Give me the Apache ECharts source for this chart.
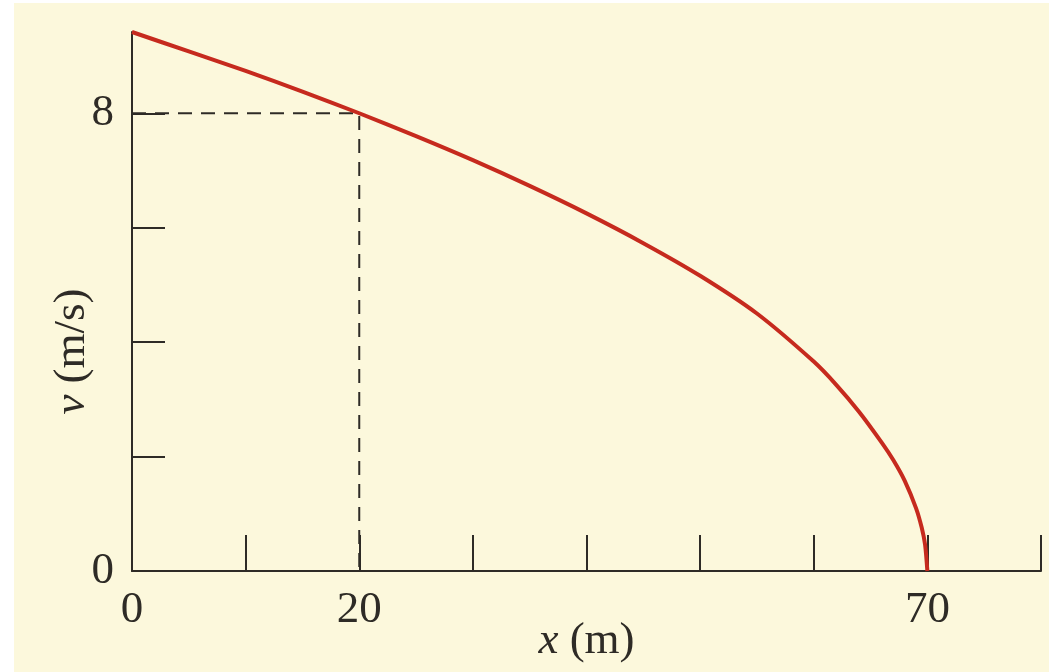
<!DOCTYPE html>
<html>
<head>
<meta charset="utf-8">
<script src="https://cdn.jsdelivr.net/npm/echarts@6/dist/echarts.min.js"></script>
<style>
  html, body { margin: 0; padding: 0; background: #ffffff; }
  #chart { position: absolute; left: 14px; top: 3px; width: 1035px; height: 669px; background: #fcf8dc; }
</style>
</head>
<body>
<div id="chart"></div>
<script>
// Position x (m) and speed v (m/s) along the braking curve
const positions = [0, 5, 10, 15, 20, 25, 30, 35, 40, 45, 50, 55, 60, 62, 64, 66, 67, 68, 69, 69.5, 69.8, 70];
const speeds    = [9.42, 9.08, 8.74, 8.38, 8.0, 7.6, 7.18, 6.73, 6.25, 5.73, 5.16, 4.5, 3.66, 3.25, 2.78, 2.24, 1.94, 1.58, 1.1, 0.76, 0.46, 0];

// Reading guide: the point (20 m, 8 m/s)
const markX = 20;
const markV = 8;

// Only these tick values carry a label
const xTickLabels = [0, 20, 70];
const yTickLabels = [0, 8];

const serif = '"Liberation Serif", "DejaVu Serif", serif';
const ink = '#2e2b26';
const fs = 45;

const chart = echarts.init(document.getElementById('chart'));
chart.setOption({
  animation: false,
  grid: { left: 118, right: 8, top: 29, bottom: 101, outerBoundsMode: 'none', containLabel: false },
  xAxis: {
    type: 'value', min: 0, max: 80, interval: 10,
    name: '{i|x} (m)', nameLocation: 'middle', nameGap: 48, nameMoveOverlap: false,
    nameTextStyle: { fontFamily: serif, fontSize: fs, color: ink,
      rich: { i: { fontFamily: serif, fontSize: fs, fontStyle: 'italic', color: ink } } },
    axisLine: { lineStyle: { color: ink, width: 2 } },
    axisTick: { inside: true, length: 36, lineStyle: { color: ink, width: 2 } },
    axisLabel: { margin: 17, fontFamily: serif, fontSize: fs, color: ink,
      formatter: v => xTickLabels.includes(v) ? String(v) : '' },
    splitLine: { show: false }
  },
  yAxis: {
    type: 'value', min: 0, max: 9.42, interval: 2,
    name: '{i|v} (m/s)', nameLocation: 'middle', nameGap: 37, nameRotate: 90, nameMoveOverlap: false,
    nameTextStyle: { fontFamily: serif, fontSize: fs, color: ink, padding: [0, 100, 0, 0],
      rich: { i: { fontFamily: serif, fontSize: fs, fontStyle: 'italic', color: ink } } },
    axisLine: { show: true, lineStyle: { color: ink, width: 2 } },
    axisTick: { show: true, inside: true, length: 33, lineStyle: { color: ink, width: 2 } },
    axisLabel: { margin: 18, fontFamily: serif, fontSize: fs, color: ink, showMaxLabel: false,
      formatter: v => yTickLabels.includes(v) ? String(v) : '' },
    splitLine: { show: false }
  },
  series: [
    {
      type: 'line',
      data: [[0, markV], [markX, markV], [markX, 0]],
      symbol: 'none',
      lineStyle: { color: ink, width: 2, type: [14, 9] },
      z: 2
    },
    {
      type: 'line',
      data: positions.map((x, i) => [x, speeds[i]]),
      symbol: 'none',
      smooth: 0.25,
      lineStyle: { color: '#c62a1e', width: 4 },
      z: 3
    }
  ]
});
</script>
</body>
</html>
